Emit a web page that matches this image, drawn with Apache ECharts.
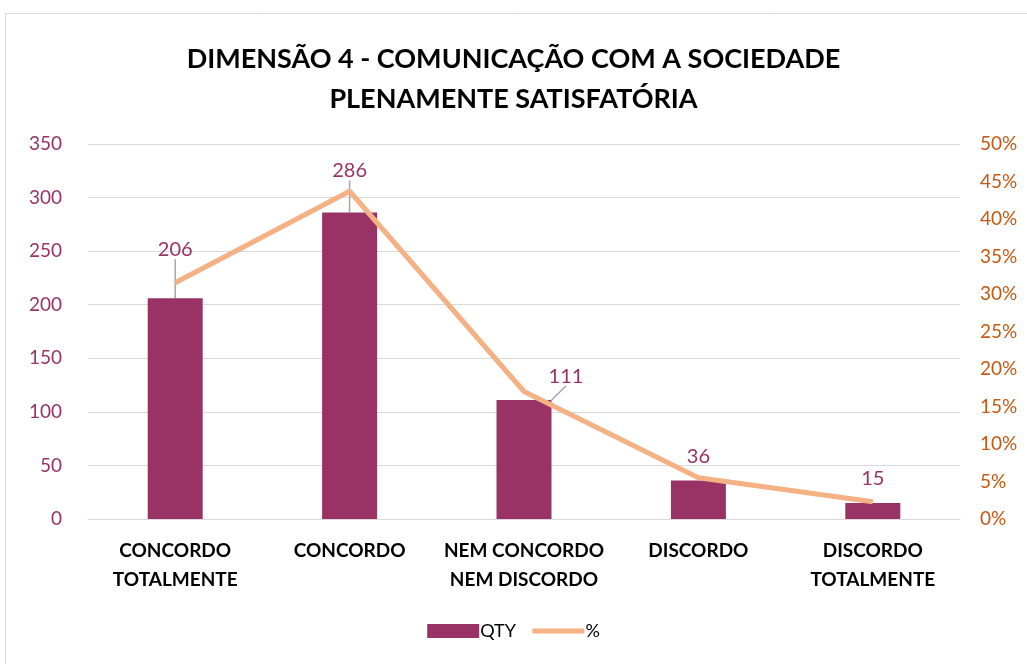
<!DOCTYPE html>
<html>
<head>
<meta charset="utf-8">
<script src="https://cdn.jsdelivr.net/npm/echarts@6/dist/echarts.min.js"></script>
<style>
  html, body { margin: 0; padding: 0; background: #fff; }
  #chart { width: 1027px; height: 664px; }
</style>
</head>
<body>
<div id="chart"></div>
<script>
const categories = ['CONCORDO\nTOTALMENTE', 'CONCORDO', 'NEM CONCORDO\nNEM DISCORDO', 'DISCORDO', 'DISCORDO\nTOTALMENTE'];
const qty = [206, 286, 111, 36, 15];
const pct = [0.315, 0.437, 0.170, 0.055, 0.023];
// label offsets, as in the reference
const labelShift = [[0, -25], [0, -18], [42, 0], [0, 0], [0, 0]];

const font = 'Lato, "Open Sans", sans-serif';
const chart = echarts.init(document.getElementById('chart'));

// leader lines only on the labels that were moved
const barData = qty.map((v, i) => ({
  value: v,
  labelLine: { show: labelShift[i][0] !== 0 || labelShift[i][1] !== 0 }
}));

chart.setOption({
  backgroundColor: '#fff',
  animation: false,
  graphic: [{
    type: 'rect',
    shape: { x: 5.5, y: 13.5, width: 1040, height: 680 },
    style: { fill: 'none', stroke: '#d9d9d9', lineWidth: 1 }
  }],
  title: {
    text: 'DIMENSÃO 4 - COMUNICAÇÃO COM A SOCIEDADE\nPLENAMENTE SATISFATÓRIA',
    left: 'center',
    top: 34,
    textStyle: { fontFamily: font, fontSize: 27, fontWeight: 'bold', color: '#000', lineHeight: 40 }
  },
  legend: {
    bottom: 19,
    left: 'center',
    itemWidth: 52,
    itemHeight: 14,
    itemGap: 14,
    lineStyle: { width: 5 },
    textStyle: { fontFamily: font, fontSize: 18, color: '#000', padding: [0, 0, 0, -4] },
    data: [{ name: 'QTY', icon: 'rect' }, { name: '%', itemStyle: { opacity: 0 } }]
  },
  grid: { left: 88, right: 67, top: 144, bottom: 145 },
  xAxis: {
    type: 'category',
    data: categories,
    axisLine: { show: true, lineStyle: { color: '#d9d9d9' } },
    axisTick: { show: false },
    axisLabel: { fontFamily: font, fontSize: 19, fontWeight: 'bold', color: '#000', lineHeight: 29, margin: 17, interval: 0 }
  },
  yAxis: [{
    type: 'value', min: 0, max: 350, interval: 50,
    axisLine: { show: false }, axisTick: { show: false },
    splitLine: { lineStyle: { color: '#d9d9d9' } },
    axisLabel: { fontFamily: font, fontSize: 19, color: '#993366', margin: 26 }
  }, {
    type: 'value', min: 0, max: 0.5, interval: 0.05,
    axisLine: { show: false }, axisTick: { show: false },
    splitLine: { show: false },
    axisLabel: {
      fontFamily: font, fontSize: 19, color: '#C65911', margin: 20,
      formatter: v => Math.round(v * 100) + '%'
    }
  }],
  series: [{
    name: 'QTY',
    type: 'bar',
    data: barData,
    barWidth: 55,
    itemStyle: { color: '#993366' },
    z: 2,
    label: {
      show: true, position: 'top', distance: 14,
      fontFamily: font, fontSize: 20, color: '#993366'
    },
    labelLine: { show: true, lineStyle: { color: '#a6a6a6', width: 1.5 } },
    labelLayout: p => ({ dx: labelShift[p.dataIndex][0], dy: labelShift[p.dataIndex][1] })
  }, {
    name: '%',
    type: 'line',
    yAxisIndex: 1,
    data: pct,
    symbol: 'none',
    lineStyle: { color: '#F4B183', width: 5 },
    itemStyle: { color: '#F4B183' },
    z: 3
  }]
});
</script>
</body>
</html>
